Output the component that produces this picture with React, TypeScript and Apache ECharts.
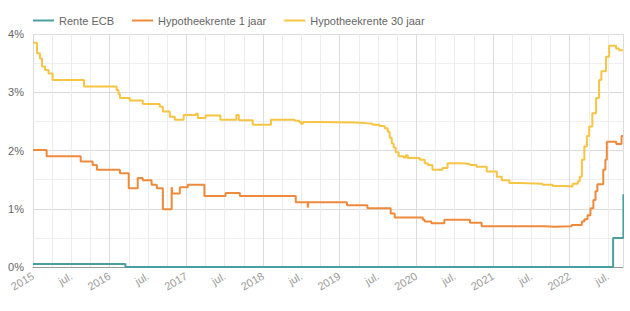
import React, { useEffect, useRef } from "react";
import * as echarts from "echarts";

const seriesNames = ["Rente ECB", "Hypotheekrente 1 jaar", "Hypotheekrente 30 jaar"];
const seriesColors = ["#4a9ea1", "#ee8a3c", "#f8c443"];

const xMinDate = "2015-01-01";
const xMaxDate = "2022-09-12";

const ecbDates = ["2015-01-01", "2016-03-16", "2022-07-27", "2022-09-14", "2022-09-12"];
const ecbValues = [0.05, 0, 0.5, 1.25, 1.25];

const oneYearDates = [
  "2015-01-01", "2015-03-07", "2015-08-16", "2015-10-12", "2015-11-01", "2016-02-19",
  "2016-04-01", "2016-05-14", "2016-06-07", "2016-07-19", "2016-08-13", "2016-09-11",
  "2016-10-23", "2016-10-26", "2016-12-01", "2017-01-08", "2017-03-28", "2017-07-07",
  "2017-09-13", "2018-06-06", "2018-08-02", "2018-08-05", "2019-02-05", "2019-05-13",
  "2019-09-01", "2019-09-20", "2020-02-01", "2020-02-10", "2020-03-13", "2020-05-14",
  "2020-09-13", "2020-11-08", "2021-09-04", "2021-10-21", "2022-01-11", "2022-02-28",
  "2022-03-12", "2022-03-27", "2022-04-10", "2022-04-24", "2022-05-04", "2022-05-13",
  "2022-06-10", "2022-06-20", "2022-06-27", "2022-08-11", "2022-09-05", "2022-09-12",
];
const oneYearValues = [
  2.01, 1.90, 1.81, 1.75, 1.67, 1.61,
  1.35, 1.53, 1.49, 1.41, 1.35, 0.99,
  1.37, 1.26, 1.37, 1.41, 1.22, 1.27,
  1.22, 1.11, 1.02, 1.11, 1.06, 1.01,
  0.92, 0.85, 0.81, 0.78, 0.75, 0.81,
  0.76, 0.70, 0.69, 0.70, 0.72, 0.78,
  0.82, 0.89, 1.01, 1.15, 1.30, 1.42,
  1.67, 1.84, 2.15, 2.11, 2.25, 2.25,
];

const thirtyYearDates = [
  "2015-01-01", "2015-01-20", "2015-02-03", "2015-02-13", "2015-02-27", "2015-03-16",
  "2015-04-04", "2015-09-01", "2016-02-03", "2016-02-12", "2016-02-19", "2016-04-06",
  "2016-06-07", "2016-08-27", "2016-09-11", "2016-10-14", "2016-11-07", "2016-12-19",
  "2017-02-16", "2017-02-25", "2017-04-03", "2017-06-12", "2017-08-27", "2017-09-08",
  "2017-11-13", "2018-02-08", "2018-06-01", "2018-06-23", "2018-07-01", "2018-07-10",
  "2018-09-27", "2019-03-12", "2019-04-30", "2019-06-07", "2019-07-10", "2019-08-03",
  "2019-08-18", "2019-08-27", "2019-09-06", "2019-09-15", "2019-09-25", "2019-10-09",
  "2019-11-02", "2019-11-12", "2019-11-21", "2020-01-17", "2020-02-10", "2020-02-25",
  "2020-03-18", "2020-05-05", "2020-05-29", "2020-08-03", "2020-09-13", "2020-10-15",
  "2020-12-02", "2021-01-19", "2021-02-12", "2021-03-20", "2021-05-07", "2021-08-25",
  "2021-10-12", "2021-12-16", "2022-01-15", "2022-02-09", "2022-02-18", "2022-02-28",
  "2022-03-12", "2022-03-24", "2022-04-04", "2022-04-19", "2022-05-07", "2022-05-21",
  "2022-06-01", "2022-06-23", "2022-07-08", "2022-08-10", "2022-08-25", "2022-09-12",
];
const thirtyYearValues = [
  3.85, 3.67, 3.58, 3.44, 3.38, 3.32,
  3.21, 3.10, 3.04, 2.97, 2.90, 2.86,
  2.80, 2.75, 2.67, 2.58, 2.53, 2.61,
  2.63, 2.56, 2.60, 2.53, 2.61, 2.52,
  2.44, 2.53, 2.51, 2.49, 2.46, 2.49,
  2.48, 2.47, 2.46, 2.44, 2.42, 2.38,
  2.32, 2.22, 2.12, 2.05, 1.97, 1.90,
  1.88, 1.92, 1.87, 1.84, 1.78, 1.75,
  1.67, 1.70, 1.78, 1.77, 1.75, 1.72,
  1.64, 1.55, 1.49, 1.44, 1.43, 1.41,
  1.39, 1.38, 1.43, 1.47, 1.55, 1.84,
  2.07, 2.25, 2.41, 2.64, 2.90, 3.21,
  3.36, 3.61, 3.80, 3.75, 3.72, 3.72,
];

const yTicks = [0, 1, 2, 3, 4];

function toYear(s: string): number {
  const [y, m, d] = s.split("-").map(Number);
  const start = Date.UTC(y, 0, 1);
  const end = Date.UTC(y + 1, 0, 1);
  return y + (Date.UTC(y, m - 1, d) - start) / (end - start);
}

function pairs(dates: string[], values: number[]) {
  return dates.map((d, i) => [toYear(d), values[i]]);
}

export default function App() {
  const ref = useRef<HTMLDivElement>(null);
  useEffect(() => {
    if (!ref.current) return;
    const chart = echarts.init(ref.current, undefined, { renderer: "svg" });
    const font = "'Liberation Sans', Arial, sans-serif";
    const makeSeries = (i: number, data: number[][]) => ({
      name: seriesNames[i],
      type: "line",
      step: "end",
      showSymbol: false,
      data,
      color: seriesColors[i],
      lineStyle: { width: 2, color: seriesColors[i] },
    });
    chart.setOption({
      animation: false,
      textStyle: { fontFamily: font },
      legend: {
        left: 28,
        top: 10,
        itemWidth: 21,
        itemHeight: 2,
        itemGap: 18,
        icon: "rect",
        textStyle: { color: "#666", fontSize: 11, fontFamily: font },
        data: seriesNames,
      },
      grid: { left: 33, right: 7, top: 34, bottom: 44, containLabel: false },
      xAxis: {
        type: "value",
        min: toYear(xMinDate),
        max: toYear(xMaxDate),
        interval: 0.5,
        axisLine: { show: true, lineStyle: { color: "#999", width: 1 } },
        axisTick: { show: false },
        axisLabel: {
          rotate: 30,
          color: "#999",
          fontSize: 11,
          margin: 8,
          showMaxLabel: false,
          formatter: (v: number) => {
            if (Math.abs(v - Math.round(v)) < 1e-6) return String(Math.round(v));
            if (Math.abs(v * 2 - Math.round(v * 2)) < 1e-6) return "jul.";
            return "";
          },
        },
        splitLine: { show: true, lineStyle: { color: ["#dcdcdc", "#ececec"], width: 1 } },
        minorTick: { show: false, splitNumber: 2 },
        minorSplitLine: { show: true, lineStyle: { color: "#ececec", width: 1 } },
      },
      yAxis: {
        type: "value",
        min: yTicks[0],
        max: yTicks[yTicks.length - 1],
        interval: 0.5,
        axisLine: { show: false },
        axisTick: { show: false },
        axisLabel: {
          color: "#666",
          fontSize: 11,
          margin: 9,
          formatter: (v: number) => (Number.isInteger(v) ? v + "%" : ""),
        },
        splitLine: { show: true, lineStyle: { color: ["#dcdcdc", "#efefef"], width: 1 } },
      },
      series: [
        makeSeries(0, pairs(ecbDates, ecbValues)),
        makeSeries(1, pairs(oneYearDates, oneYearValues)),
        makeSeries(2, pairs(thirtyYearDates, thirtyYearValues)),
      ],
    });
    return () => chart.dispose();
  }, []);
  return (
    <div
      ref={ref}
      style={{ position: "fixed", left: 0, top: 0, width: 630, height: 311, background: "#fff" }}
    />
  );
}
